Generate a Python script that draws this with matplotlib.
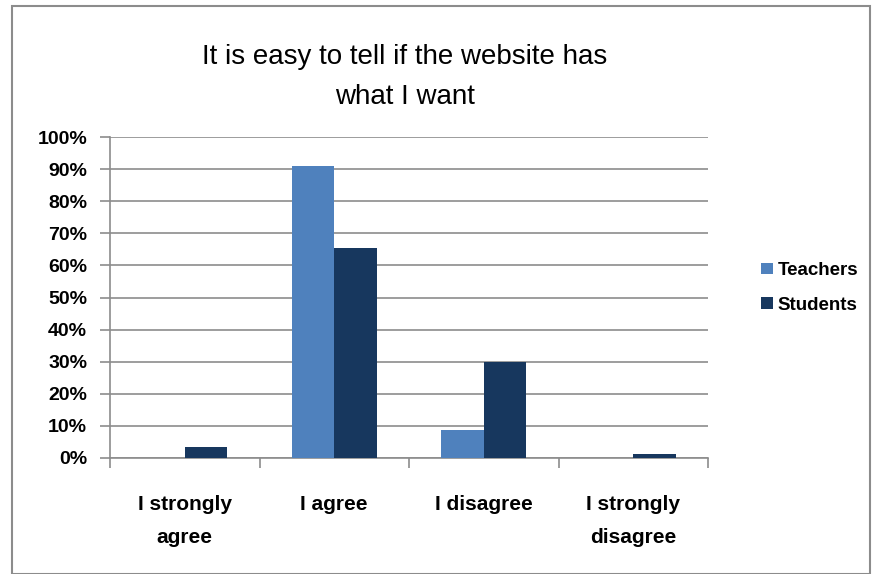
import matplotlib
matplotlib.use("Agg")
import matplotlib.pyplot as plt
import numpy as np
from matplotlib.patches import Rectangle

categories = ["I strongly\nagree", "I agree", "I disagree", "I strongly\ndisagree"]
teachers = [0, 91, 8.7, 0]
students = [3.3, 65.5, 29.8, 1.1]
series_names = ["Teachers", "Students"]
yticks = list(range(0, 101, 10))

light_blue = "#4f81bd"
dark_blue = "#17375e"
grid_gray = "#8c8c8c"
font = ["Liberation Sans Narrow", "Liberation Sans", "DejaVu Sans"]

fig = plt.figure(figsize=(8.75, 5.74), dpi=100)
ax = fig.add_axes([110 / 875, 1 - 458 / 574, 598 / 875, 321 / 574])

x = np.arange(len(categories))
w = 0.285
ax.bar(x - w / 2, teachers, w, color=light_blue, label=series_names[0], zorder=3)
ax.bar(x + w / 2, students, w, color=dark_blue, label=series_names[1], zorder=3)

ax.set_xlim(-0.5, len(categories) - 0.5)
ax.set_ylim(0, 100)
ax.set_yticks(yticks)
ax.set_yticklabels([f"{v}%" for v in yticks], family=font, fontweight="bold", fontsize=14)
ax.yaxis.grid(True, color=grid_gray, lw=1.2, zorder=0)
ax.tick_params(axis="y", length=7.5, width=1.2, color=grid_gray, pad=9)

# category labels sit between the boundary ticks
ax.set_xticks(x)
ax.set_xticklabels(categories, family=font, fontweight="bold", fontsize=15, linespacing=1.9)
ax.set_xticks(np.arange(-0.5, len(categories)), minor=True)
ax.tick_params(axis="x", which="major", length=0, pad=27)
ax.tick_params(axis="x", which="minor", length=7, width=1.2, color=grid_gray)

for side in ["top", "right"]:
    ax.spines[side].set_visible(False)
for side in ["left", "bottom"]:
    ax.spines[side].set_color(grid_gray)
    ax.spines[side].set_linewidth(1.2)

fig.text(405 / 875, 1 - 77 / 574, "It is easy to tell if the website has\nwhat I want",
         ha="center", va="center", family=font, fontsize=20, linespacing=1.75)

leg = fig.legend(loc="center left", bbox_to_anchor=(752 / 875, 1 - 288 / 574),
                 frameon=False, prop={"family": font, "weight": "bold", "size": 13.5},
                 handlelength=0.6, handleheight=0.6, handletextpad=0.25, labelspacing=0.95,
                 borderpad=0)

fig.patches.append(Rectangle((12 / 875, 0.5 / 574), 858 / 875, 567.5 / 574,
                             transform=fig.transFigure, fill=False,
                             edgecolor="#8c8c8c", lw=1.5))

fig.savefig("out.png", dpi=100)
